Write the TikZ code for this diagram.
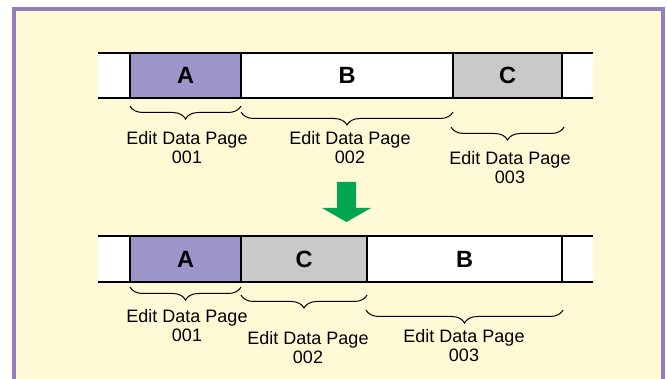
\documentclass[tikz,border=0pt]{standalone}
\usepackage{fontspec}
\setmainfont{Liberation Sans}
\usetikzlibrary{decorations.pathreplacing}
\definecolor{framepurple}{RGB}{148,126,190}
\definecolor{bgyellow}{RGB}{255,249,214}
\definecolor{pageA}{RGB}{156,149,201}
\definecolor{pageC}{RGB}{201,201,201}
\definecolor{movegreen}{RGB}{0,166,81}

\begin{document}
\begin{tikzpicture}
    [x=1pt,y=-1pt,
     cell/.style={draw, line width=2.5pt, inner sep=0pt, font=\fontsize{23.5}{23.5}\selectfont\bfseries},
     lbl/.style={align=center, inner sep=0pt, font=\fontsize{18}{19}\selectfont},
     pagebrace/.style={decorate, decoration={brace, mirror, amplitude=13pt}, line width=1pt}]
  \useasboundingbox (0,0) rectangle (667,379);
  \draw[framepurple, line width=4pt, fill=bgyellow] (14,9) rectangle (663,400);

  % before
  \fill[white] (98,53) rectangle (593,98);
  \draw[line width=2.5pt] (98,53) -- (593,53) (98,98) -- (593,98);
  \node[cell, fill=pageA, minimum width=111pt, minimum height=45pt] (tA) at (185.5,75.5) {A};
  \node[cell, fill=white, minimum width=212pt, minimum height=45pt] (tB) at (347,75.5) {B};
  \node[cell, fill=pageC, minimum width=109pt, minimum height=45pt] (tC) at (507.5,75.5) {C};

  % after
  \fill[white] (98,236) rectangle (593,282);
  \draw[line width=2.5pt] (98,236) -- (593,236) (98,282) -- (593,282);
  \node[cell, fill=pageA, minimum width=111pt, minimum height=46pt] (bA) at (185.5,259) {A};
  \node[cell, fill=pageC, minimum width=126pt, minimum height=46pt] (bC) at (304,259) {C};
  \node[cell, fill=white, minimum width=195pt, minimum height=46pt] (bB) at (464.5,259) {B};

  \foreach \from/\to/\y in {130/241/106, 241/453/112, 451/564/127, 130/241/287, 241/367/295, 366/563/310}
    \draw[pagebrace] (\from,\y) -- (\to,\y);

  \foreach \name/\x/\y/\num in {tl1/187/147.5/001, tl2/350/147.5/002, tl3/510/167.5/003, bl1/187/326/001, bl2/308/348/002, bl3/464/346/003}
    \node[lbl] (\name) at (\x,\y) {Edit Data Page\\\num};

  \fill[movegreen] (337,182) -- (356,182) -- (356,208) -- (371,208) -- (346.5,222) -- (322,208) -- (337,208) -- cycle;
\end{tikzpicture}
\end{document}
